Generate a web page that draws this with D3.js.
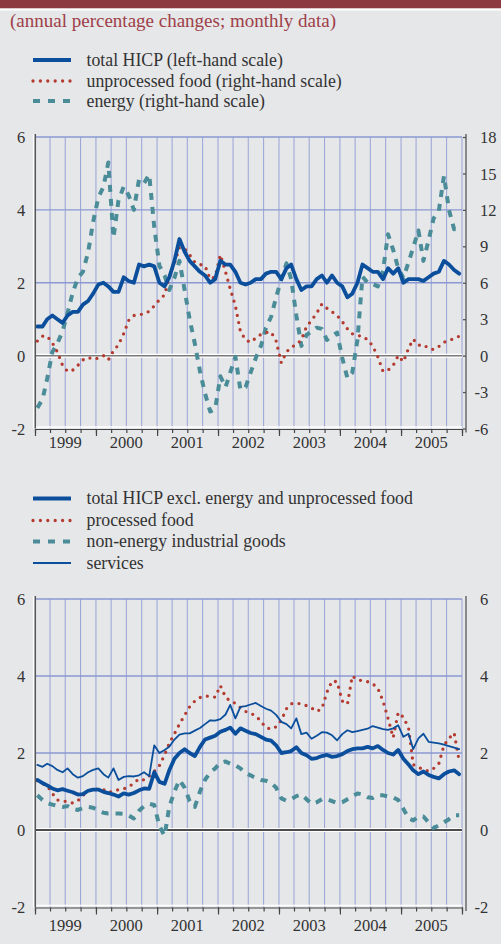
<!DOCTYPE html>
<html>
<head>
<meta charset="utf-8">
<script src="https://cdn.jsdelivr.net/npm/d3@7"></script>
<style>
  body { margin: 0; background: #e6e7e9; }
  svg { display: block; }
</style>
</head>
<body>
<svg id="chart" width="501" height="944"></svg>
<script>
// monthly data, Jan 1999 - Dec 2005
var years = ["1999", "2000", "2001", "2002", "2003", "2004", "2005"];

var totalHicp = [
  0.8, 0.8, 1.0, 1.1, 1.0, 0.9, 1.1, 1.2, 1.2, 1.4, 1.5, 1.7,
  1.95, 2.0, 1.9, 1.75, 1.75, 2.15, 2.05, 2.0, 2.5, 2.45, 2.5, 2.45,
  2.0, 1.9, 2.15, 2.6, 3.2, 2.85, 2.6, 2.45, 2.3, 2.2, 2.0, 2.1,
  2.6, 2.5, 2.5, 2.3, 2.0, 1.95, 2.0, 2.1, 2.1, 2.25, 2.3, 2.3,
  2.1, 2.4, 2.5, 2.1, 1.8, 1.9, 1.9, 2.1, 2.2, 2.0, 2.2, 2.0,
  1.9, 1.6, 1.7, 2.0, 2.5, 2.4, 2.3, 2.3, 2.1, 2.4, 2.25, 2.4,
  2.0, 2.1, 2.1, 2.1, 2.05, 2.15, 2.25, 2.3, 2.6, 2.5, 2.35, 2.25
];
var unprocessedFood = [
  1.2, 1.6, 1.6, 1.05, 0.3, -0.8, -1.3, -1.2, -0.8, -0.35, -0.15, -0.3,
  -0.2, 0.0, -0.35, 0.4, 0.9, 1.8, 2.9, 3.3, 3.35, 3.45, 3.65, 4.1,
  4.6, 5.0, 6.5, 7.6, 8.9, 8.8, 8.3, 7.7, 7.5, 7.4, 6.3, 6.5,
  8.3, 6.9, 5.5, 4.1, 2.0, 1.3, 1.1, 1.45, 1.75, 1.9, 1.95, 1.2,
  -0.6, 0.3, 0.7, 0.9, 1.3, 2.4, 2.9, 3.5, 4.25, 3.9, 3.6, 3.3,
  2.8, 2.2, 1.8, 1.65, 1.6, 1.3, 0.8, -0.1, -1.3, -1.2, -0.8, 0.0,
  -0.5, 0.6, 1.35, 0.85, 0.9, 0.6, 0.5, 0.75, 1.1, 1.25, 1.4, 1.6
];
var energy = [
  -4.3, -3.6, -1.9, 0.3, 1.0, 2.0, 3.5, 5.2, 6.4, 6.9, 8.5, 11.0,
  13.0, 13.9, 15.9, 9.7, 12.8, 13.9, 13.2, 12.0, 14.5, 14.2, 14.9, 10.6,
  7.4, 6.6, 5.4, 6.4, 7.8, 5.4, 3.0, 1.0, -1.3, -3.1, -4.6, -4.4,
  -1.7, -2.6, -1.4, -0.1, -2.8, -2.6, -1.4, -0.2, 0.8, 2.3, 3.2, 4.8,
  6.3, 7.6, 6.3, 3.3, 0.8, 1.7, 2.0, 2.3, 2.2, 1.3, 1.6, 1.9,
  -0.2, -1.85, -1.4, 1.3, 6.5, 6.0, 5.9, 5.7, 7.0, 10.0, 8.7, 7.2,
  6.4, 7.7, 8.9, 10.3, 7.8, 9.5, 11.3, 11.9, 14.8, 12.0, 10.4, 10.6
];

var coreHicp = [
  1.3, 1.22, 1.16, 1.08, 1.03, 1.06, 1.02, 0.98, 0.92, 0.93, 1.02, 1.05,
  1.05, 0.99, 0.96, 0.92, 0.87, 0.95, 0.92, 0.96, 1.03, 1.08, 1.07, 1.5,
  1.25, 1.2, 1.55, 1.85, 2.0, 2.1, 2.0, 1.92, 2.16, 2.35, 2.4, 2.45,
  2.55, 2.6, 2.66, 2.5, 2.64, 2.58, 2.52, 2.49, 2.42, 2.35, 2.32, 2.2,
  2.0, 2.02, 2.05, 2.15, 2.0, 1.94, 1.85, 1.87, 1.92, 1.95, 1.9, 1.92,
  1.97, 2.05, 2.1, 2.12, 2.12, 2.16, 2.12, 2.18, 2.08, 2.0, 1.96, 2.08,
  1.85, 1.7, 1.55, 1.45, 1.52, 1.43, 1.38, 1.34, 1.45, 1.52, 1.55, 1.45
];
var processedFood = [
  1.28, 1.2, 1.15, 0.95, 0.78, 0.75, 0.74, 0.7, 0.76, 0.9, 1.0, 1.06,
  1.06, 1.05, 0.98, 1.0, 1.05, 1.07, 1.12, 1.22, 1.33, 1.3, 1.4, 1.52,
  1.67, 1.95, 2.25, 2.5, 2.75, 2.98, 3.2, 3.35, 3.44, 3.48, 3.47, 3.45,
  3.75, 3.45, 3.35, 3.29, 3.18, 3.08, 3.03, 2.97, 2.82, 2.66, 2.62, 2.68,
  2.85, 3.15, 3.28, 3.3, 3.27, 3.23, 3.17, 3.08, 3.15, 3.58, 3.87, 3.85,
  3.35, 3.27, 4.0, 3.9, 3.88, 3.85, 3.8, 3.68, 3.35, 2.9, 2.4, 3.05,
  2.93, 2.65, 1.7, 1.63, 1.57, 1.53, 1.6, 1.72, 2.2, 2.38, 2.52, 1.8
];
var industrialGoods = [
  0.9, 0.78, 0.7, 0.66, 0.63, 0.6, 0.62, 0.55, 0.52, 0.57, 0.6, 0.58,
  0.5, 0.45, 0.43, 0.43, 0.43, 0.42, 0.38, 0.3, 0.5, 0.62, 0.68, 0.65,
  0.1, -0.15, 0.6, 1.0, 1.3, 1.1, 0.75, 0.6, 1.0, 1.3, 1.5, 1.6,
  1.75, 1.78, 1.72, 1.68, 1.6, 1.48, 1.42, 1.35, 1.3, 1.28, 1.23, 1.1,
  0.82, 0.76, 0.8, 0.88, 0.92, 0.8, 0.68, 0.72, 0.8, 0.8, 0.75, 0.7,
  0.72, 0.8, 0.87, 0.95, 0.92, 0.85, 0.83, 0.9, 0.9, 0.87, 0.85, 0.78,
  0.55, 0.3, 0.25, 0.35, 0.35, 0.2, 0.05, 0.12, 0.2, 0.28, 0.38, 0.38
];
var services = [
  1.69, 1.64, 1.72, 1.66, 1.56, 1.5, 1.6, 1.45, 1.36, 1.4, 1.5, 1.56,
  1.6, 1.45, 1.36, 1.6, 1.3, 1.38, 1.4, 1.39, 1.42, 1.5, 1.4, 2.2,
  2.0, 2.08, 2.16, 2.35, 2.48, 2.51, 2.51, 2.58, 2.65, 2.75, 2.85, 2.84,
  2.88, 3.0, 3.25, 2.9, 3.2, 3.22, 3.26, 3.3, 3.22, 3.15, 3.1, 2.99,
  2.81, 2.75, 2.64, 2.9, 2.49, 2.53, 2.37, 2.45, 2.54, 2.53, 2.46, 2.33,
  2.49, 2.59, 2.54, 2.57, 2.6, 2.63, 2.7, 2.66, 2.62, 2.6, 2.64, 2.72,
  2.42, 2.5, 2.1, 2.38, 2.5, 2.29, 2.27, 2.25, 2.22, 2.18, 2.14, 2.1
];

var leftTicks = [-2, 0, 2, 4, 6];
var rightTicksTop = [-6, -3, 0, 3, 6, 9, 12, 15, 18];
var rightTicksBottom = [-2, 0, 2, 4, 6];

var legendTop = [
  { label: "total HICP (left-hand scale)", style: "thick" },
  { label: "unprocessed food (right-hand scale)", style: "dots" },
  { label: "energy (right-hand scale)", style: "dash" }
];
var legendBottom = [
  { label: "total HICP excl. energy and unprocessed food", style: "thick" },
  { label: "processed food", style: "dots" },
  { label: "non-energy industrial goods", style: "dash" },
  { label: "services", style: "thin" }
];

var months = d3.timeMonth.range(new Date(1999, 0, 1), new Date(2006, 0, 1))
    .map(function(d) { return d3.timeDay.offset(d, 14); });

var serif = "'Liberation Serif', 'DejaVu Serif', 'Noto Serif', 'Times New Roman', serif";
var colors = { blue: "#0b4f9c", red: "#b43b30", teal: "#4a8c97", grid: "#97a3d6", text: "#333333" };
var styles = {
  thick: { stroke: colors.blue, width: 3.8, dash: null, cap: "round" },
  thin:  { stroke: colors.blue, width: 1.8, dash: null, cap: "round" },
  dots:  { stroke: colors.red, width: 3.3, dash: "0,7.3", cap: "round" },
  dash:  { stroke: colors.teal, width: 4, dash: "7,7", cap: "butt" }
};

var svg = d3.select("#chart");

var x = d3.scaleTime()
    .domain([new Date(1999, 0, 1), new Date(2006, 0, 1)])
    .range([35, 462]);

// header
svg.append("rect").attr("x", 0).attr("y", 0).attr("width", 501).attr("height", 8.5).attr("fill", "#8c3a3f");
svg.append("rect").attr("x", 0).attr("y", 8.5).attr("width", 501).attr("height", 2).attr("fill", "#ffffff");
svg.append("text")
    .attr("x", 10).attr("y", 27)
    .attr("font-family", serif)
    .attr("font-size", 19)
    .attr("fill", "#9e4048")
    .text("(annual percentage changes; monthly data)");

function legend(items, rows) {
  items.forEach(function(item, i) {
    var s = styles[item.style];
    svg.append("line")
        .attr("x1", 33).attr("x2", 71).attr("y1", rows[i]).attr("y2", rows[i])
        .attr("stroke", s.stroke).attr("stroke-width", s.width)
        .attr("stroke-dasharray", item.style == "dots" ? "0,7.4" : item.style == "dash" ? "7,8" : null)
        .attr("stroke-linecap", item.style == "dots" ? "round" : "butt");
    svg.append("text")
        .attr("x", 86.5).attr("y", rows[i] + 5.5)
        .attr("font-family", serif)
        .attr("font-size", 17.8).attr("fill", colors.text)
        .text(item.label);
  });
}

function panel(opt) {
  var y = d3.scaleLinear().domain([-2, 6]).range([opt.bottom, opt.top]);
  var y2 = d3.scaleLinear().domain(opt.rightDomain).range([opt.bottom, opt.top]);
  var g = svg.append("g");

  // vertical grid at quarters
  var quarters = d3.timeMonth.every(3).range(new Date(1999, 3, 1), new Date(2006, 0, 2));
  g.selectAll(".vg").data(quarters).enter().append("line")
      .attr("x1", function(d) { return x(d); }).attr("x2", function(d) { return x(d); })
      .attr("y1", opt.top).attr("y2", opt.bottom)
      .attr("stroke", colors.grid).attr("stroke-width", 1);

  // horizontal grid
  g.selectAll(".hg").data(leftTicks.filter(function(d) { return d != 0 && d != -2; })).enter().append("line")
      .attr("x1", 35).attr("x2", 462)
      .attr("y1", function(d) { return y(d); }).attr("y2", function(d) { return y(d); })
      .attr("stroke", "#8b99d2").attr("stroke-width", 1.3);

  // zero line
  g.append("line").attr("x1", 35).attr("x2", 462).attr("y1", y(0)).attr("y2", y(0))
      .attr("stroke", "#ffffff").attr("stroke-width", 4);
  g.append("line").attr("x1", 35).attr("x2", 462).attr("y1", y(0)).attr("y2", y(0))
      .attr("stroke", opt.zeroColor).attr("stroke-width", 1.5);

  // series
  opt.series.forEach(function(s) {
    var sc = s.axis == "right" ? y2 : y;
    var st = styles[s.style];
    var line = d3.line()
        .x(function(d, i) { return x(months[i]); })
        .y(function(d) { return sc(d); });
    g.append("path")
        .datum(s.values)
        .attr("d", line)
        .attr("fill", "none")
        .attr("stroke", st.stroke)
        .attr("stroke-width", st.width)
        .attr("stroke-dasharray", st.dash)
        .attr("stroke-linecap", st.cap)
        .attr("stroke-linejoin", "round");
  });

  // bottom axis
  g.append("line").attr("x1", 35).attr("x2", 462).attr("y1", opt.bottom - 1.5).attr("y2", opt.bottom - 1.5)
      .attr("stroke", "#ffffff").attr("stroke-width", 1.5);
  var qAxis = d3.axisBottom(x)
      .tickValues(d3.timeMonth.every(3).range(new Date(1999, 0, 1), new Date(2006, 0, 2)))
      .tickSize(4).tickSizeOuter(0).tickFormat("");
  g.append("g").attr("transform", "translate(0," + (opt.bottom + 0.5) + ")").call(qAxis)
      .call(function(a) { a.selectAll("line, path").attr("stroke", "#444").attr("stroke-width", 1.2); });
  var yAxisTicks = d3.axisBottom(x)
      .tickValues(d3.timeYear.range(new Date(1999, 0, 1), new Date(2006, 0, 2)))
      .tickSize(7).tickSizeOuter(0).tickFormat("");
  g.append("g").attr("transform", "translate(0," + (opt.bottom + 0.5) + ")").call(yAxisTicks)
      .call(function(a) { a.select(".domain").remove(); a.selectAll("line").attr("stroke", "#444").attr("stroke-width", 1.2); });

  g.selectAll(".yr").data(years).enter().append("text")
      .attr("x", function(d) { return x(new Date(+d, 6, 1)); })
      .attr("y", opt.yearBase)
      .attr("text-anchor", "middle")
      .attr("font-family", serif)
      .attr("font-size", 16.5).attr("fill", colors.text)
      .text(function(d) { return d; });

  // left axis
  g.append("line").attr("x1", 33.6).attr("x2", 33.6).attr("y1", opt.top - 3).attr("y2", opt.bottom)
      .attr("stroke", "#ffffff").attr("stroke-width", 1.4);
  var left = d3.axisLeft(y).tickValues(leftTicks).tickSize(0).tickPadding(10)
      .tickFormat(function(d) { return String(d); });
  g.append("g").attr("transform", "translate(35.3,0)").call(left)
      .call(function(a) {
        a.select(".domain").attr("stroke", "#555").attr("stroke-width", 1.5)
            .attr("d", "M0," + (opt.top - 3) + "V" + opt.bottom);
        a.selectAll("text").attr("font-size", 16.5).attr("fill", colors.text)
            .attr("font-family", serif).attr("dy", "0.34em");
      });

  // right axis
  var right = d3.axisRight(y2).tickValues(opt.rightTicks).tickSize(opt.rightTickSize).tickPadding(14)
      .tickFormat(function(d) { return String(d); });
  g.append("g").attr("transform", "translate(466,0)").call(right)
      .call(function(a) {
        a.select(".domain").attr("stroke", "#555").attr("stroke-width", 1.3)
            .attr("d", "M0," + (opt.top - 3) + "V" + (opt.bottom + 4));
        a.selectAll("line").attr("stroke", "#555").attr("stroke-width", 1.3);
        a.selectAll("text").attr("font-size", 16.5).attr("fill", colors.text)
            .attr("font-family", serif).attr("dy", "0.34em")
            .attr("dx", function(d) { return d < 0 ? "-0.33em" : 0; });
      });
}

legend(legendTop, [60, 81, 101]);
legend(legendBottom, [498.5, 520.5, 541.5, 563]);

panel({
  top: 137, bottom: 428.5, yearBase: 447.5,
  rightDomain: [-6, 18], rightTicks: rightTicksTop, rightTickSize: -3,
  zeroColor: "#7a7a7a",
  series: [
    { values: energy, style: "dash", axis: "right" },
    { values: unprocessedFood, style: "dots", axis: "right" },
    { values: totalHicp, style: "thick", axis: "left" }
  ]
});

panel({
  top: 599, bottom: 907, yearBase: 931,
  rightDomain: [-2, 6], rightTicks: rightTicksBottom, rightTickSize: 0,
  zeroColor: "#111111",
  series: [
    { values: industrialGoods, style: "dash", axis: "left" },
    { values: processedFood, style: "dots", axis: "left" },
    { values: services, style: "thin", axis: "left" },
    { values: coreHicp, style: "thick", axis: "left" }
  ]
});
</script>
</body>
</html>
